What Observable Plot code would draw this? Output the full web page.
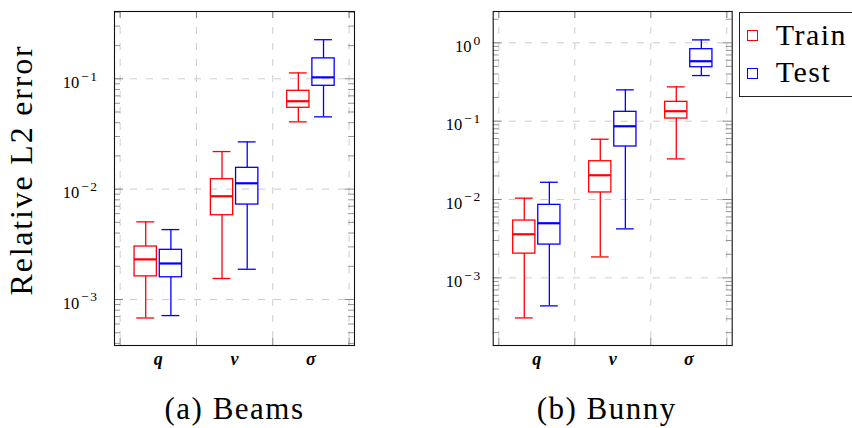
<!DOCTYPE html>
<html><head><meta charset="utf-8">
<script src="https://cdn.jsdelivr.net/npm/d3@7"></script>
<script src="https://cdn.jsdelivr.net/npm/@observablehq/plot@0.6"></script>
<style>
html,body{margin:0;padding:0;background:#fff;}
#wrap{position:relative;width:852px;height:428px;overflow:hidden;background:#fff;font-family:"Liberation Serif","Times New Roman",Times,"DejaVu Serif",serif;color:#000;}
#wrap svg{position:absolute;top:0;}
.t{position:absolute;white-space:nowrap;}
</style></head><body>
<div id="wrap"></div>
<script>
// ---- data ----
const categories = ["q", "v", "σ"];
const seriesNames = ["Train", "Test"];
const seriesColors = ["#ff0000", "#0000ff"];
const panelTitles = ["(a) Beams", "(b) Bunny"];
const yLabel = "Relative L2 error";
// each row: [lower whisker, Q1, median, Q3, upper whisker] for q, v, σ
const beamsTrain = [[6.8e-4, 1.62e-3, 2.31e-3, 3.02e-3, 5.05e-3], [1.55e-3, 5.8e-3, 8.62e-3, 1.23e-2, 2.19e-2], [4.07e-2, 5.46e-2, 6.26e-2, 7.78e-2, 0.113]];
const beamsTest  = [[7.15e-4, 1.59e-3, 2.12e-3, 2.82e-3, 4.3e-3], [1.88e-3, 7.25e-3, 1.13e-2, 1.56e-2, 2.68e-2], [4.52e-2, 8.64e-2, 0.103, 0.153, 0.226]];
const bunnyTrain = [[3.08e-4, 2.04e-3, 3.6e-3, 5.39e-3, 1.04e-2], [1.85e-3, 1.23e-2, 2.04e-2, 3.08e-2, 5.88e-2], [3.3e-2, 0.108, 0.134, 0.1765, 0.274]];
const bunnyTest  = [[4.39e-4, 2.66e-3, 4.98e-3, 8.55e-3, 1.66e-2], [4.22e-3, 4.75e-2, 8.61e-2, 0.1316, 0.251], [0.382, 0.488, 0.582, 0.829, 1.09]];
const yMajorTicks = [1e-3, 1e-2, 1e-1, 1e0];
const beamsYDomain = [3.83e-4, 0.407];
const bunnyYDomain = [1.37e-4, 2.51];

const FONT = '"Liberation Serif","Times New Roman",Times,"DejaVu Serif",serif';

function rows(train, test) {
  const out = [];
  [train, test].forEach((s, si) => s.forEach((v, ci) => out.push({
    cat: categories[ci], series: seriesNames[si], color: seriesColors[si],
    pos: ci + 1 + (si === 0 ? -0.165 : 0.165),
    min: v[0], q1: v[1], med: v[2], q3: v[3], max: v[4]
  })));
  return out;
}

const wrap = document.getElementById("wrap");

function panel({data, yDomain, left, width, marginLeft, marginRight, tickPad}) {
  const H = 375, mt = 11, mb = 30;
  const frameW = width - marginLeft - marginRight;
  const frameH = H - mt - mb;
  const minor = [];
  for (let k = -5; k <= 1; k++) for (let m = 2; m <= 9; m++) {
    const v = m * Math.pow(10, k);
    if (v > yDomain[0] && v < yDomain[1]) minor.push(v);
  }
  const major = yMajorTicks.filter(v => v >= yDomain[0] && v <= yDomain[1]);
  const xg = [0.5, 1.5, 2.5, 3.5];
  const bw = 0.146, cw = 0.117, lw = 1.3;
  const tickC = "#7a7a7a", gridC = "#cdcdcd";
  const svg = Plot.plot({
    width, height: H, marginLeft, marginRight, marginTop: mt, marginBottom: mb,
    x: {type: "linear", domain: [0.426, 3.571], label: null},
    y: {type: "log", domain: yDomain, label: null},
    color: {type: "identity"},
    style: {fontFamily: FONT, background: "white", overflow: "visible", color: "black"},
    marks: [
      Plot.gridY(major, {stroke: gridC, strokeOpacity: 1, strokeDasharray: "7,9"}),
      Plot.gridX(xg, {stroke: gridC, strokeOpacity: 1, strokeDasharray: "7,9"}),
      Plot.tickY(minor, {y: d => d, insetRight: frameW - 6, stroke: tickC, strokeWidth: 0.8}),
      Plot.tickY(minor, {y: d => d, insetLeft: frameW - 6, stroke: tickC, strokeWidth: 0.8}),
      Plot.tickY(major, {y: d => d, insetRight: frameW - 9, stroke: tickC, strokeWidth: 0.9}),
      Plot.tickY(major, {y: d => d, insetLeft: frameW - 9, stroke: tickC, strokeWidth: 0.9}),
      Plot.tickX(xg, {x: d => d, insetTop: frameH - 7, stroke: tickC, strokeWidth: 0.9}),
      Plot.tickX(xg, {x: d => d, insetBottom: frameH - 7, stroke: tickC, strokeWidth: 0.9}),
      Plot.ruleX(data, {x: "pos", y1: "min", y2: "q1", stroke: "color", strokeWidth: lw}),
      Plot.ruleX(data, {x: "pos", y1: "q3", y2: "max", stroke: "color", strokeWidth: lw}),
      Plot.ruleY(data, {y: "min", x1: d => d.pos - cw, x2: d => d.pos + cw, stroke: "color", strokeWidth: lw}),
      Plot.ruleY(data, {y: "max", x1: d => d.pos - cw, x2: d => d.pos + cw, stroke: "color", strokeWidth: lw}),
      Plot.rect(data, {x1: d => d.pos - bw, x2: d => d.pos + bw, y1: "q1", y2: "q3", fill: "none", stroke: "color", strokeWidth: lw}),
      Plot.ruleY(data, {y: "med", x1: d => d.pos - bw, x2: d => d.pos + bw, stroke: "color", strokeWidth: 2.2}),
      Plot.frame({stroke: "#111", strokeWidth: 1.1}),
      Plot.axisY(major, {tickSize: 0, tickPadding: tickPad, tickFormat: d => String(Math.round(Math.log10(d))), fontSize: 16.5, dy: 3.9}),
      Plot.axisX([1, 2, 3], {tickSize: 0, tickPadding: 7, tickFormat: d => categories[d - 1], fontSize: 18, fontWeight: "bold", fontStyle: "italic"})
    ]
  });
  svg.style.fontFamily = FONT;
  d3.select(svg).selectAll('g[aria-label="y-axis tick label"] text').each(function () {
    const e = this.textContent.replace("-", "−");
    const s = d3.select(this);
    s.text("10");
    s.append("tspan").attr("dy", "-7.3").attr("font-size", "13.5").attr("dx", "2").attr("letter-spacing", "1.5").text(e);
  });
  svg.style.left = left + "px";
  wrap.appendChild(svg);
}

panel({data: rows(beamsTrain, beamsTest), yDomain: beamsYDomain, left: 0, width: 360, marginLeft: 114, marginRight: 6, tickPad: 16});
panel({data: rows(bunnyTrain, bunnyTest), yDomain: bunnyYDomain, left: 430, width: 306, marginLeft: 62.7, marginRight: 4.3, tickPad: 11.5});

function addText(txt, css) {
  const d = document.createElement("div");
  d.className = "t";
  d.textContent = txt;
  d.style.fontFamily = FONT;
  Object.assign(d.style, css);
  wrap.appendChild(d);
  return d;
}
// y label (rotated)
addText(yLabel, {left: "21px", top: "170px", fontSize: "32px", lineHeight: "32px", letterSpacing: "1.8px",
  transform: "translate(-50%,-50%) rotate(-90deg)"});
// captions
addText(panelTitles[0], {left: "234.5px", top: "393px", fontSize: "31px", lineHeight: "31px", letterSpacing: "1.5px", transform: "translateX(-50%)"});
addText(panelTitles[1], {left: "606.7px", top: "393px", fontSize: "31px", lineHeight: "31px", letterSpacing: "1.5px", transform: "translateX(-50%)"});
// legend
const box = document.createElement("div");
Object.assign(box.style, {position: "absolute", left: "739px", top: "12px", width: "140px", height: "85px", border: "1px solid #222", boxSizing: "border-box", background: "#fff"});
wrap.appendChild(box);
seriesNames.forEach((name, i) => {
  const sw = document.createElement("div");
  Object.assign(sw.style, {position: "absolute", left: "747.3px", top: (30 + i * 37.5) + "px", width: "11px", height: "11px",
    border: "1.3px solid " + seriesColors[i], boxSizing: "border-box"});
  wrap.appendChild(sw);
  addText(name, {left: "775.7px", top: (20 + i * 36.7) + "px", fontSize: "30px", lineHeight: "30px", letterSpacing: "1.5px"});
});
</script>
</body></html>
